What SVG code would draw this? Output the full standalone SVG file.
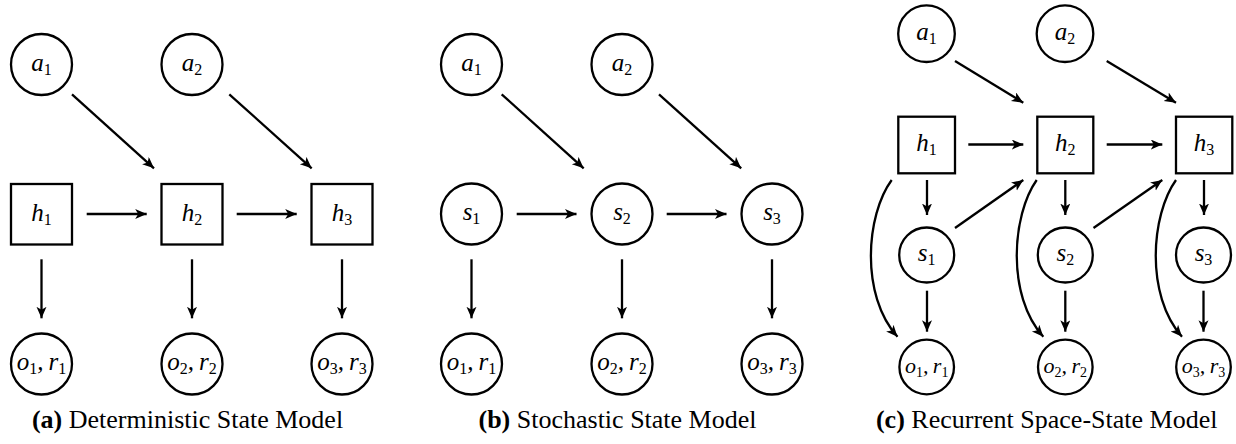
<svg xmlns="http://www.w3.org/2000/svg" width="1236" height="444" viewBox="0 0 1236 444">
  <style>
    .node { fill: #fff; stroke: #000; stroke-width: 2.3; }
    .edge { fill: none; stroke: #000; stroke-width: 2.3; marker-end: url(#arrow); }
    .lbl { font-family: 'Liberation Serif', 'DejaVu Serif', serif; font-size: 25px; font-style: italic; text-anchor: middle; fill: #000; }
    .sub { font-size: 16px; font-style: normal; }
    .cap { font-family: 'Liberation Serif', 'DejaVu Serif', serif; font-size: 26px; text-anchor: middle; fill: #000; }
    .cap .b { font-weight: bold; }
  </style>
  <defs>
    <marker id="arrow" markerUnits="userSpaceOnUse" markerWidth="14" markerHeight="12" refX="11.5" refY="5" orient="auto">
      <path d="M0,0 L11.5,5 L0,10 L3,5 Z" fill="#000"/>
    </marker>
  </defs>

  <rect width="1236" height="444" fill="#fff"/>

  <!-- (a) Deterministic state model -->
  <g id="a-a1"><circle class="node" cx="41.5" cy="64.5" r="30.5"/><text class="lbl" x="41.5" y="71">a<tspan class="sub" dy="4">1</tspan></text></g>
  <g id="a-a2"><circle class="node" cx="192" cy="64.5" r="30.5"/><text class="lbl" x="192" y="71">a<tspan class="sub" dy="4">2</tspan></text></g>
  <g id="a-h1"><rect class="node" x="11" y="184" width="61" height="60.5"/><text class="lbl" x="41.5" y="221">h<tspan class="sub" dy="4">1</tspan></text></g>
  <g id="a-h2"><rect class="node" x="161.5" y="184" width="61" height="60.5"/><text class="lbl" x="192" y="221">h<tspan class="sub" dy="4">2</tspan></text></g>
  <g id="a-h3"><rect class="node" x="311.5" y="184" width="61" height="60.5"/><text class="lbl" x="342" y="221">h<tspan class="sub" dy="4">3</tspan></text></g>
  <g id="a-o1"><circle class="node" cx="41.5" cy="364" r="30.5"/><text class="lbl" x="41.5" y="370">o<tspan class="sub" dy="4">1</tspan><tspan dy="-4">,&#8201;r</tspan><tspan class="sub" dy="4">1</tspan></text></g>
  <g id="a-o2"><circle class="node" cx="192" cy="364" r="30.5"/><text class="lbl" x="192" y="370">o<tspan class="sub" dy="4">2</tspan><tspan dy="-4">,&#8201;r</tspan><tspan class="sub" dy="4">2</tspan></text></g>
  <g id="a-o3"><circle class="node" cx="342" cy="364" r="30.5"/><text class="lbl" x="342" y="370">o<tspan class="sub" dy="4">3</tspan><tspan dy="-4">,&#8201;r</tspan><tspan class="sub" dy="4">3</tspan></text></g>

  <!-- (b) Stochastic state model -->
  <g id="b-a1"><circle class="node" cx="471.5" cy="64.5" r="30.5"/><text class="lbl" x="471.5" y="71">a<tspan class="sub" dy="4">1</tspan></text></g>
  <g id="b-a2"><circle class="node" cx="622" cy="64.5" r="30.5"/><text class="lbl" x="622" y="71">a<tspan class="sub" dy="4">2</tspan></text></g>
  <g id="b-s1"><circle class="node" cx="471.5" cy="214" r="30.5"/><text class="lbl" x="471.5" y="220">s<tspan class="sub" dy="4">1</tspan></text></g>
  <g id="b-s2"><circle class="node" cx="622" cy="214" r="30.5"/><text class="lbl" x="622" y="220">s<tspan class="sub" dy="4">2</tspan></text></g>
  <g id="b-s3"><circle class="node" cx="772" cy="214" r="30.5"/><text class="lbl" x="772" y="220">s<tspan class="sub" dy="4">3</tspan></text></g>
  <g id="b-o1"><circle class="node" cx="471.5" cy="364" r="30.5"/><text class="lbl" x="471.5" y="370">o<tspan class="sub" dy="4">1</tspan><tspan dy="-4">,&#8201;r</tspan><tspan class="sub" dy="4">1</tspan></text></g>
  <g id="b-o2"><circle class="node" cx="622" cy="364" r="30.5"/><text class="lbl" x="622" y="370">o<tspan class="sub" dy="4">2</tspan><tspan dy="-4">,&#8201;r</tspan><tspan class="sub" dy="4">2</tspan></text></g>
  <g id="b-o3"><circle class="node" cx="772" cy="364" r="30.5"/><text class="lbl" x="772" y="370">o<tspan class="sub" dy="4">3</tspan><tspan dy="-4">,&#8201;r</tspan><tspan class="sub" dy="4">3</tspan></text></g>

  <!-- (c) Recurrent state-space model -->
  <g id="c-a1"><circle class="node" cx="926.5" cy="33.7" r="28.3"/><text class="lbl" x="926.5" y="40">a<tspan class="sub" dy="4">1</tspan></text></g>
  <g id="c-a2"><circle class="node" cx="1065" cy="33.7" r="28.3"/><text class="lbl" x="1065" y="40">a<tspan class="sub" dy="4">2</tspan></text></g>
  <g id="c-h1"><rect class="node" x="898.3" y="116.7" width="56.7" height="56.6"/><text class="lbl" x="926.5" y="151">h<tspan class="sub" dy="4">1</tspan></text></g>
  <g id="c-h2"><rect class="node" x="1037.3" y="116.7" width="56" height="56.6"/><text class="lbl" x="1065.3" y="151">h<tspan class="sub" dy="4">2</tspan></text></g>
  <g id="c-h3"><rect class="node" x="1176" y="116.7" width="56.3" height="56.6"/><text class="lbl" x="1204" y="151">h<tspan class="sub" dy="4">3</tspan></text></g>
  <g id="c-s1"><circle class="node" cx="926.7" cy="255" r="27.5"/><text class="lbl" x="926.7" y="261">s<tspan class="sub" dy="4">1</tspan></text></g>
  <g id="c-s2"><circle class="node" cx="1065.3" cy="255" r="27.5"/><text class="lbl" x="1065.3" y="261">s<tspan class="sub" dy="4">2</tspan></text></g>
  <g id="c-s3"><circle class="node" cx="1203.5" cy="255" r="27.5"/><text class="lbl" x="1203.5" y="261">s<tspan class="sub" dy="4">3</tspan></text></g>
  <g id="c-o1"><circle class="node" cx="926.7" cy="367" r="27.3"/><text class="lbl" x="926.7" y="373" style="font-size:22px">o<tspan class="sub" dy="4" style="font-size:14px">1</tspan><tspan dy="-4">,&#8201;r</tspan><tspan class="sub" dy="4" style="font-size:14px">1</tspan></text></g>
  <g id="c-o2"><circle class="node" cx="1065.3" cy="367" r="27.3"/><text class="lbl" x="1065.3" y="373" style="font-size:22px">o<tspan class="sub" dy="4" style="font-size:14px">2</tspan><tspan dy="-4">,&#8201;r</tspan><tspan class="sub" dy="4" style="font-size:14px">2</tspan></text></g>
  <g id="c-o3"><circle class="node" cx="1203.5" cy="367" r="27.3"/><text class="lbl" x="1203.5" y="373" style="font-size:22px">o<tspan class="sub" dy="4" style="font-size:14px">3</tspan><tspan dy="-4">,&#8201;r</tspan><tspan class="sub" dy="4" style="font-size:14px">3</tspan></text></g>

  <!-- connectors -->
  <g id="connectors">
    <!-- (a) -->
    <line class="edge" x1="72" y1="94.3" x2="154" y2="168.3"/>
    <line class="edge" x1="229.3" y1="94.3" x2="311.7" y2="168.3"/>
    <line class="edge" x1="86.7" y1="214" x2="146.7" y2="214"/>
    <line class="edge" x1="236.7" y1="214" x2="296.7" y2="214"/>
    <line class="edge" x1="41.5" y1="259.3" x2="41.5" y2="318.3"/>
    <line class="edge" x1="192" y1="259.3" x2="192" y2="318.3"/>
    <line class="edge" x1="342" y1="259.3" x2="342" y2="318.3"/>
    <!-- (b) -->
    <line class="edge" x1="501.7" y1="94.3" x2="583.7" y2="168.3"/>
    <line class="edge" x1="659" y1="94.3" x2="741.2" y2="168.3"/>
    <line class="edge" x1="516.7" y1="214" x2="576.5" y2="214"/>
    <line class="edge" x1="666.7" y1="214" x2="726.5" y2="214"/>
    <line class="edge" x1="471.5" y1="259.3" x2="471.5" y2="318.3"/>
    <line class="edge" x1="622" y1="259.3" x2="622" y2="318.3"/>
    <line class="edge" x1="772" y1="259.3" x2="772" y2="318.3"/>
    <!-- (c) -->
    <line class="edge" x1="955" y1="61" x2="1023.3" y2="102.7"/>
    <line class="edge" x1="1106.7" y1="61" x2="1176" y2="102.7"/>
    <line class="edge" x1="968.3" y1="144.5" x2="1023.3" y2="144.5"/>
    <line class="edge" x1="1106.7" y1="144.5" x2="1162.3" y2="144.5"/>
    <line class="edge" x1="927" y1="180" x2="927" y2="215"/>
    <line class="edge" x1="1065.3" y1="180" x2="1065.3" y2="215"/>
    <line class="edge" x1="1204" y1="180" x2="1204" y2="215"/>
    <line class="edge" x1="955" y1="228" x2="1023.3" y2="180"/>
    <line class="edge" x1="1093.5" y1="228" x2="1162.3" y2="180"/>
    <line class="edge" x1="927" y1="290.7" x2="927" y2="331.7"/>
    <line class="edge" x1="1065.3" y1="290.7" x2="1065.3" y2="331.7"/>
    <line class="edge" x1="1203.5" y1="290.7" x2="1203.5" y2="331.7"/>
    <path class="edge" d="M891.7,180 C866,215 860,295 897.5,336.7"/>
    <path class="edge" d="M1036.7,180 C1012,215 1006,295 1043.3,336.7"/>
    <path class="edge" d="M1176,180 C1151,215 1145,295 1182,336.7"/>
  </g>

  <!-- captions -->
  <text class="cap" x="187.5" y="428"><tspan class="b">(a)</tspan> Deterministic State Model</text>
  <text class="cap" x="617.5" y="428"><tspan class="b">(b)</tspan> Stochastic State Model</text>
  <text class="cap" x="1046.7" y="428"><tspan class="b">(c)</tspan> Recurrent Space-State Model</text>
</svg>
